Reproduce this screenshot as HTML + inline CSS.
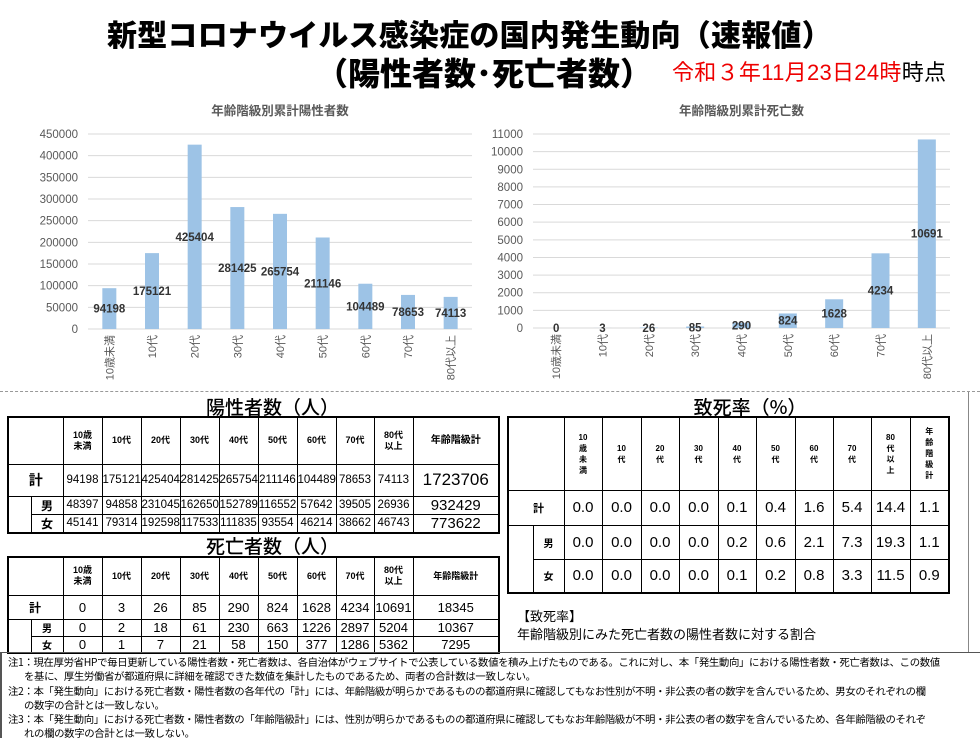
<!DOCTYPE html>
<html><head><meta charset="utf-8">
<style>
*{margin:0;padding:0;box-sizing:border-box}
body{width:980px;height:738px;background:#fff;position:relative;overflow:hidden;font-family:"Liberation Sans","Noto Sans CJK JP",sans-serif;color:#000}
.abs{position:absolute}
.t1{left:107px;top:14px;font-size:30px;font-weight:900;font-family:"Noto Sans CJK JP",sans-serif;letter-spacing:0.2px;line-height:38px;white-space:nowrap}
.t2{left:316px;top:53px;font-size:32px;font-weight:900;font-family:"Noto Sans CJK JP",sans-serif;line-height:38px;letter-spacing:0;white-space:nowrap}
.date{left:672px;top:59px;font-size:22px;line-height:28px;font-family:"Liberation Sans","Noto Sans CJK JP",sans-serif;color:#e00;letter-spacing:0.3px;white-space:nowrap}
.date span{color:#000}
table{border-collapse:collapse;table-layout:fixed;position:absolute;border:2px solid #000}
td{border:1px solid #000;text-align:center;vertical-align:middle;padding:0;overflow:hidden;white-space:nowrap}
td.h{font-size:9px;font-weight:bold;line-height:11px;white-space:normal}
td.nb{border-top:none;border-bottom:none}
.sec{font-size:19px;line-height:22px;text-align:center;font-family:"Noto Sans CJK JP",sans-serif;font-weight:500}
.note{left:8px;top:655px;font-size:10.4px;line-height:14.3px;font-family:"Noto Sans CJK JP",sans-serif;letter-spacing:-0.35px;white-space:nowrap}
.note div.i{padding-left:16px}
</style></head><body>
<div class="abs t1">新型コロナウイルス感染症の国内発生動向（速報値）</div>
<div class="abs t2">（陽性者数･死亡者数）</div>
<div class="abs date">令和３年11月23日24時<span>時点</span></div>

<svg class="abs" style="left:0;top:95px" width="980" height="300">
<g id="c1"></g>
<g id="c2"></g>
</svg>
<div class="abs" style="left:0;top:391px;width:980px;border-top:1px dashed #999"></div>

<div class="abs sec" style="left:150px;width:245px;top:396px">陽性者数（人）</div>
<table style="left:7px;top:416px;width:492px">
<colgroup><col style="width:23px"><col style="width:32px"><col style="width:39px"><col style="width:39px"><col style="width:39px"><col style="width:39px"><col style="width:39px"><col style="width:39px"><col style="width:39px"><col style="width:38px"><col style="width:39px"><col style="width:86px"></colgroup>
<tr style="height:47px"><td colspan="2"></td><td class="h">10歳<br>未満</td><td class="h">10代</td><td class="h">20代</td><td class="h">30代</td><td class="h">40代</td><td class="h">50代</td><td class="h">60代</td><td class="h">70代</td><td class="h">80代<br>以上</td><td class="h" style="font-size:10px">年齢階級計</td></tr>
<tr style="height:32px;font-size:11.5px"><td colspan="2" style="font-size:14px;font-weight:bold">計</td><td>94198</td><td>175121</td><td>425404</td><td>281425</td><td>265754</td><td>211146</td><td>104489</td><td>78653</td><td>74113</td><td style="font-size:17px">1723706</td></tr>
<tr style="height:18px;font-size:11.5px"><td rowspan="2" class="nb"></td><td style="font-weight:bold;font-size:12px">男</td><td>48397</td><td>94858</td><td>231045</td><td>162650</td><td>152789</td><td>116552</td><td>57642</td><td>39505</td><td>26936</td><td style="font-size:15px">932429</td></tr>
<tr style="height:19px;font-size:11.5px"><td style="font-weight:bold;font-size:12px">女</td><td>45141</td><td>79314</td><td>192598</td><td>117533</td><td>111835</td><td>93554</td><td>46214</td><td>38662</td><td>46743</td><td style="font-size:15px">773622</td></tr>
</table>

<div class="abs sec" style="left:150px;width:245px;top:535px">死亡者数（人）</div>
<table style="left:7px;top:556px;width:492px">
<colgroup><col style="width:23px"><col style="width:32px"><col style="width:39px"><col style="width:39px"><col style="width:39px"><col style="width:39px"><col style="width:39px"><col style="width:39px"><col style="width:39px"><col style="width:38px"><col style="width:39px"><col style="width:86px"></colgroup>
<tr style="height:38px"><td colspan="2"></td><td class="h">10歳<br>未満</td><td class="h">10代</td><td class="h">20代</td><td class="h">30代</td><td class="h">40代</td><td class="h">50代</td><td class="h">60代</td><td class="h">70代</td><td class="h">80代<br>以上</td><td class="h">年齢階級計</td></tr>
<tr style="height:24px;font-size:13px"><td colspan="2" style="font-weight:bold;font-size:12px;text-align:left;padding-left:20px">計</td><td>0</td><td>3</td><td>26</td><td>85</td><td>290</td><td>824</td><td>1628</td><td>4234</td><td>10691</td><td>18345</td></tr>
<tr style="height:17px;font-size:13px"><td rowspan="2" class="nb" style="border-bottom:none"></td><td style="font-weight:bold;font-size:10px">男</td><td>0</td><td>2</td><td>18</td><td>61</td><td>230</td><td>663</td><td>1226</td><td>2897</td><td>5204</td><td>10367</td></tr>
<tr style="height:16px;font-size:13px"><td style="font-weight:bold;font-size:10px">女</td><td>0</td><td>1</td><td>7</td><td>21</td><td>58</td><td>150</td><td>377</td><td>1286</td><td>5362</td><td>7295</td></tr>
</table>

<div class="abs sec" style="left:650px;width:200px;top:396px">致死率（%）</div>
<table style="left:507px;top:416px;width:441px">
<colgroup><col style="width:25px"><col style="width:31px"><col style="width:38px"><col style="width:39px"><col style="width:38px"><col style="width:39px"><col style="width:38px"><col style="width:39px"><col style="width:38px"><col style="width:38px"><col style="width:39px"><col style="width:39px"></colgroup>
<tr style="height:73px"><td colspan="2"></td><td class="h" style="font-size:8px">10<br>歳<br>未<br>満</td><td class="h" style="font-size:8px">10<br>代</td><td class="h" style="font-size:8px">20<br>代</td><td class="h" style="font-size:8px">30<br>代</td><td class="h" style="font-size:8px">40<br>代</td><td class="h" style="font-size:8px">50<br>代</td><td class="h" style="font-size:8px">60<br>代</td><td class="h" style="font-size:8px">70<br>代</td><td class="h" style="font-size:8px">80<br>代<br>以<br>上</td><td class="h" style="font-size:8px">年<br>齢<br>階<br>級<br>計</td></tr>
<tr style="height:35px;font-size:15px"><td colspan="2" style="font-weight:bold;font-size:11px;text-align:left;padding-left:24px">計</td><td>0.0</td><td>0.0</td><td>0.0</td><td>0.0</td><td>0.1</td><td>0.4</td><td>1.6</td><td>5.4</td><td>14.4</td><td>1.1</td></tr>
<tr style="height:34px;font-size:15px"><td rowspan="2" class="nb" style="border-bottom:1px solid #000"></td><td style="font-weight:bold;font-size:10px">男</td><td>0.0</td><td>0.0</td><td>0.0</td><td>0.0</td><td>0.2</td><td>0.6</td><td>2.1</td><td>7.3</td><td>19.3</td><td>1.1</td></tr>
<tr style="height:34px;font-size:15px"><td style="font-weight:bold;font-size:10px">女</td><td>0.0</td><td>0.0</td><td>0.0</td><td>0.0</td><td>0.1</td><td>0.2</td><td>0.8</td><td>3.3</td><td>11.5</td><td>0.9</td></tr>
</table>
<div class="abs" style="left:517px;top:607px;font-size:13px;line-height:18px;font-family:'Noto Sans CJK JP',sans-serif">【致死率】<br>年齢階級別にみた死亡者数の陽性者数に対する割合</div>
<div class="abs" style="left:968px;top:392px;height:260px;border-left:1px solid #888"></div>

<div class="abs" style="left:0;top:652px;width:980px;height:86px;border-top:1px solid #555;border-left:2px solid #555"></div>
<div class="abs note">
<div>注1：現在厚労省HPで毎日更新している陽性者数・死亡者数は、各自治体がウェブサイトで公表している数値を積み上げたものである。これに対し、本「発生動向」における陽性者数・死亡者数は、この数値</div>
<div class="i">を基に、厚生労働省が都道府県に詳細を確認できた数値を集計したものであるため、両者の合計数は一致しない。</div>
<div>注2：本「発生動向」における死亡者数・陽性者数の各年代の「計」には、年齢階級が明らかであるものの都道府県に確認してもなお性別が不明・非公表の者の数字を含んでいるため、男女のそれぞれの欄</div>
<div class="i">の数字の合計とは一致しない。</div>
<div>注3：本「発生動向」における死亡者数・陽性者数の「年齢階級計」には、性別が明らかであるものの都道府県に確認してもなお年齢階級が不明・非公表の者の数字を含んでいるため、各年齢階級のそれぞ</div>
<div class="i">れの欄の数字の合計とは一致しない。</div>
</div>

<script>
const categories = ["10歳未満","10代","20代","30代","40代","50代","60代","70代","80代以上"];
const positiveValues = [94198,175121,425404,281425,265754,211146,104489,78653,74113];
const deathValues = [0,3,26,85,290,824,1628,4234,10691];
const positiveTicks = [0,50000,100000,150000,200000,250000,300000,350000,400000,450000];
const deathTicks = [0,1000,2000,3000,4000,5000,6000,7000,8000,9000,10000,11000];
const NS="http://www.w3.org/2000/svg";
function mk(tag,attrs,parent,text){const e=document.createElementNS(NS,tag);for(const k in attrs)e.setAttribute(k,attrs[k]);if(text!==undefined)e.textContent=text;parent.appendChild(e);return e;}
function drawChart(g,title,vals,ticks,x0,x1,yTop,yBot,tickX,barW){
  const max=ticks[ticks.length-1];
  const y=v=>yBot-(v/max)*(yBot-yTop);
  const step=(x1-x0)/categories.length;
  const xc=i=>x0+step*(i+0.5);
  const t=mk('text',{x:(x0+x1)/2,y:20,'text-anchor':'middle','font-size':'12.5','font-weight':'bold',fill:'#595959','font-family':'"Liberation Sans","Noto Sans CJK JP",sans-serif'},g,title);
  
  
  ticks.forEach(tv=>{
    const l=mk('line',{x1:x0,x2:x1,y1:y(tv),y2:y(tv),stroke:'#d9d9d9','stroke-width':1},g);
    
    
    const tl=mk('text',{x:tickX,y:y(tv)+4,'text-anchor':'end','font-size':'11.5',fill:'#595959'},g,String(tv));
    
    
  });
  vals.forEach((v,i)=>{
    const r=mk('rect',{x:xc(i)-barW/2,y:y(v),width:barW,height:yBot-y(v),fill:'#9dc3e6'},g);
    
    
    const lb=mk('text',{x:xc(i),y:(y(v)+yBot)/2+4,'text-anchor':'middle','font-size':'11.5','font-weight':'bold',fill:'#333'},g,String(v));
    
    
    const cx=mk('text',{transform:`translate(${xc(i)+4},${yBot+6}) rotate(-90)`,'text-anchor':'end','font-size':'11',fill:'#595959','font-family':'"Liberation Sans","Noto Sans CJK JP",sans-serif'},g,categories[i]);
    
    
  });
}
drawChart(document.getElementById('c1'),'年齢階級別累計陽性者数',positiveValues,positiveTicks,88,472,39,234,78,14);
drawChart(document.getElementById('c2'),'年齢階級別累計死亡数',deathValues,deathTicks,533,950,39,233,523,18);
</script>
</body></html>
